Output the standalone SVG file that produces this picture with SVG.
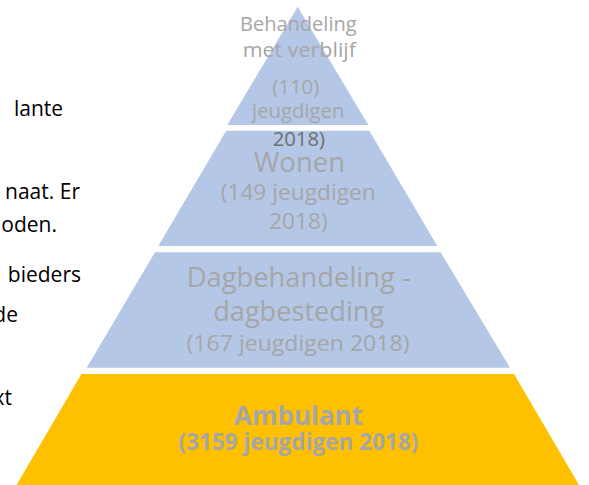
<svg xmlns="http://www.w3.org/2000/svg" width="589" height="485" viewBox="0 0 589 485">
  <style>
    .body { font-family: "Open Sans", "Liberation Sans", sans-serif; font-size: 21px; fill: #000000; }
    .lbl { font-family: "Open Sans", "Liberation Sans", sans-serif; fill: #A6A6A6; text-anchor: middle; }
    .blue { fill: #B4C7E7; }
    .gold { fill: #FFC000; }
  </style>
  <rect width="589" height="485" fill="#FFFFFF"/>

  <g id="body-text">
    <text class="body" x="14" y="116">lante</text>
    <text class="body" x="80" y="199" text-anchor="end">naat. Er</text>
    <text class="body" x="57" y="232" text-anchor="end">oden.</text>
    <text class="body" x="81" y="282" text-anchor="end">bieders</text>
    <text class="body" x="18" y="322" text-anchor="end">de</text>
    <text class="body" x="12" y="405" text-anchor="end">xt</text>
  </g>

  <g id="level-ambulant">
    <polygon class="gold" points="81.5,374 514,374 579,485 16.5,485"/>
    <text class="lbl" x="298.5" y="425" font-size="27" font-weight="bold" textLength="129" lengthAdjust="spacingAndGlyphs">Ambulant</text>
    <text class="lbl" x="298.5" y="450" font-size="22.6" font-weight="bold" textLength="240" lengthAdjust="spacingAndGlyphs">(3159 jeugdigen 2018)</text>
  </g>

  <g id="level-dagbehandeling">
    <polygon class="blue" points="155,252.3 440.7,252.3 510,367.7 86.7,367.7"/>
    <text class="lbl" x="298.7" y="287" font-size="27" textLength="224" lengthAdjust="spacingAndGlyphs">Dagbehandeling -</text>
    <text class="lbl" x="298.7" y="321" font-size="27" textLength="171" lengthAdjust="spacingAndGlyphs">dagbesteding</text>
    <text class="lbl" x="298" y="351" font-size="22.6" textLength="223" lengthAdjust="spacingAndGlyphs">(167 jeugdigen 2018)</text>
  </g>

  <g id="level-wonen">
    <polygon class="blue" points="226.2,130.7 369.3,130.7 437.3,246 158.3,246"/>
    <text class="lbl" x="299.5" y="171.5" font-size="26.7" textLength="91" lengthAdjust="spacingAndGlyphs">Wonen</text>
    <text class="lbl" x="298.2" y="200" font-size="22.4" textLength="155" lengthAdjust="spacingAndGlyphs">(149 jeugdigen</text>
    <text class="lbl" x="298.3" y="229" font-size="22.4" textLength="58.7" lengthAdjust="spacingAndGlyphs">2018)</text>
  </g>

  <g id="level-behandeling">
    <polygon class="blue" points="297.7,6.7 368.3,125 227.3,125"/>
    <text class="lbl" x="298.3" y="31" font-size="20.3" textLength="116.7" lengthAdjust="spacingAndGlyphs">Behandeling</text>
    <text class="lbl" x="299.3" y="57" font-size="20.3" textLength="113.3" lengthAdjust="spacingAndGlyphs">met verblijf</text>
    <text class="lbl" x="295.8" y="94" font-size="20.3" textLength="47" lengthAdjust="spacingAndGlyphs">(110)</text>
    <text class="lbl" x="298.2" y="118.3" font-size="20.3" textLength="92.3" lengthAdjust="spacingAndGlyphs">jeugdigen</text>
    <text class="lbl" x="298.8" y="146" font-size="20.3" textLength="52.3" lengthAdjust="spacingAndGlyphs" style="fill:#6E6E6E">2018)</text>
  </g>
</svg>
